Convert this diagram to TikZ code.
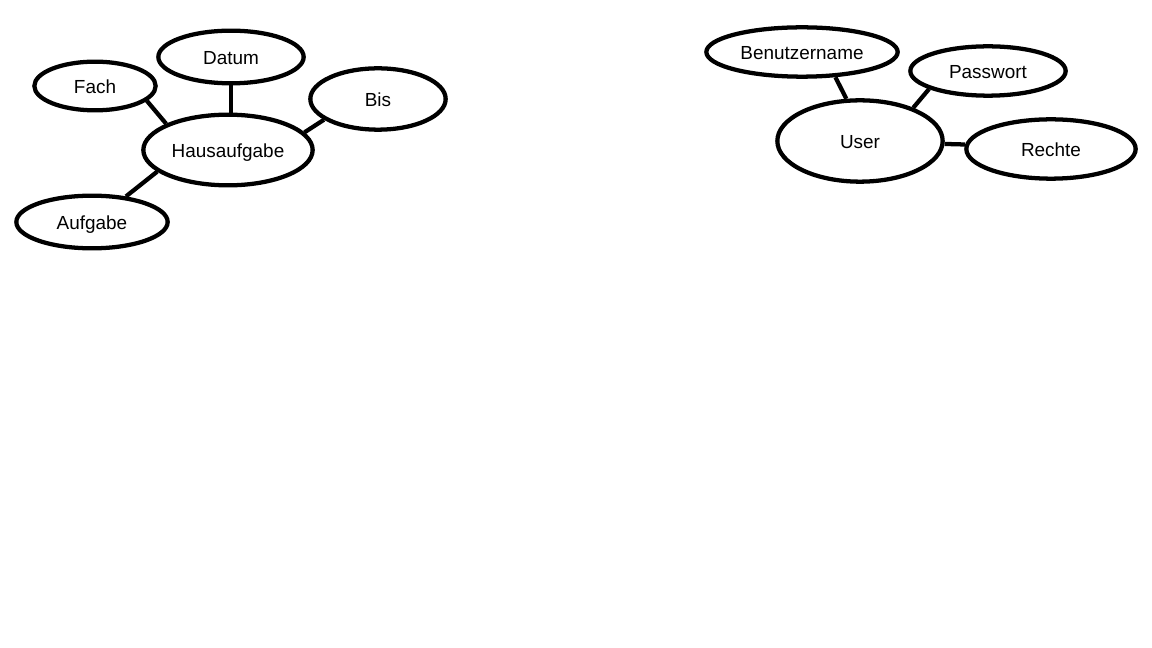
\documentclass[tikz,border=0pt]{standalone}
\usepackage{fontspec}
\setmainfont{Liberation Sans}
\usepackage{tikz}
\usetikzlibrary{shapes.geometric}

\tikzset{
  attr/.style={ellipse, draw, line width=3.2pt, inner sep=0pt, text height=11.3pt, text depth=0pt,
    font=\fontsize{14.2}{17}\selectfont},
  link/.style={line width=3.2pt}
}

\begin{document}
\begin{tikzpicture}[x=0.75pt,y=-0.75pt]
\useasboundingbox (0,0) rectangle (1152,648);
% Hausaufgabe
\node[attr, minimum width=127pt, minimum height=53pt] (haus) at (228,150) {Hausaufgabe};
\node[attr, minimum width=109pt, minimum height=39.5pt] (datum) at (231,57) {Datum};
\node[attr, minimum width=91pt, minimum height=36.5pt] (fach) at (95,86) {Fach};
\node[attr, minimum width=101.5pt, minimum height=46pt] (bis) at (378,99) {Bis};
\node[attr, minimum width=113.5pt, minimum height=39.5pt] (aufgabe) at (92,222) {Aufgabe};
\draw[link] (fach.-16) -- (haus.157);
\draw[link] (datum.south) -- (datum.south |- haus.north);
\draw[link] (bis.-159) -- (haus.13);
\draw[link] (aufgabe.37) -- (haus.197);
% User
\node[attr, minimum width=124pt, minimum height=61pt] (user) at (860,141) {User};
\node[attr, minimum width=143.5pt, minimum height=37pt] (benutzer) at (802,52) {Benutzername};
\node[attr, minimum width=116.5pt, minimum height=37pt] (passwort) at (988,71) {Passwort};
\node[attr, minimum width=127pt, minimum height=44.5pt] (rechte) at (1051,149) {Rechte};
\draw[link] (benutzer.-37) -- (user.108);
\draw[link] (passwort.197) -- (user.32);
\draw[link] (user.-2) -- (rechte.177);
\end{tikzpicture}
\end{document}
